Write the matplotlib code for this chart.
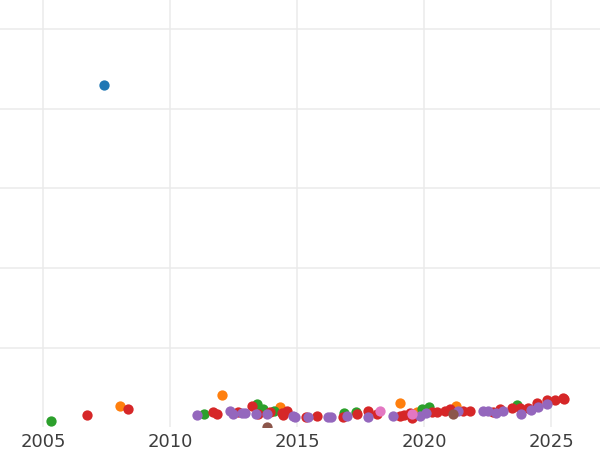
import matplotlib
matplotlib.use("Agg")
import matplotlib.pyplot as plt

# values (x = year, y = arbitrary units, grid every 20)
blue_x = [2007.40]
blue_y = [86.0]

orange_x = [2008.04, 2012.03, 2014.34, 2019.05, 2019.71, 2021.26]
orange_y = [5.4, 8.0, 5.1, 6.0, 3.8, 5.4]

green_x = [2005.30, 2011.32, 2013.41, 2013.65, 2014.11, 2016.85, 2017.32,
           2019.91, 2020.20, 2023.67]
green_y = [1.4, 3.3, 5.9, 4.5, 3.9, 3.4, 3.8, 4.5, 5.1, 5.5]

red_x = [2006.74, 2008.33, 2011.71, 2011.84, 2012.69, 2013.22, 2013.48, 2013.94,
         2014.40, 2014.45, 2014.62, 2015.35, 2015.77, 2016.82, 2017.35, 2017.81,
         2018.14, 2019.05, 2019.21, 2019.46, 2019.51, 2020.30, 2020.50, 2020.83,
         2021.02, 2021.55, 2021.81, 2022.72, 2022.99, 2023.45, 2023.78, 2024.11,
         2024.44, 2024.83, 2025.16, 2025.46, 2025.51]
red_y = [3.0, 4.5, 3.7, 3.2, 3.7, 5.4, 3.2, 3.7,
         3.4, 3.0, 4.0, 2.6, 2.8, 2.6, 3.2, 4.1,
         3.2, 2.8, 3.0, 3.4, 2.2, 3.8, 3.7, 4.0,
         4.5, 4.0, 4.0, 3.8, 4.5, 4.9, 4.9, 4.9,
         6.0, 6.8, 6.8, 7.2, 7.0]

purple_x = [2011.06, 2012.36, 2012.49, 2012.85, 2012.95, 2013.39, 2013.83, 2014.85,
            2014.92, 2015.42, 2016.23, 2016.34, 2016.96, 2017.81, 2018.79, 2019.84,
            2020.08, 2021.33, 2022.33, 2022.53, 2022.83, 2023.10, 2023.82, 2024.20,
            2024.48, 2024.85]
purple_y = [3.0, 3.9, 3.2, 3.4, 3.6, 3.3, 3.2, 2.8,
            2.5, 2.5, 2.4, 2.4, 2.8, 2.4, 2.8, 2.8,
            3.6, 4.0, 4.0, 4.0, 3.6, 4.0, 3.3, 4.3,
            5.1, 5.8]

brown_x = [2013.82, 2021.14]
brown_y = [0.1, 3.2]

pink_x = [2018.27, 2019.51]
pink_y = [4.1, 3.3]

series = [
    (blue_x, blue_y, "#1f77b4"),
    (orange_x, orange_y, "#ff7f0e"),
    (green_x, green_y, "#2ca02c"),
    (red_x, red_y, "#d62728"),
    (purple_x, purple_y, "#9467bd"),
    (brown_x, brown_y, "#8c564b"),
    (pink_x, pink_y, "#e377c2"),
]

plt.rcParams["font.family"] = ["DejaVu Sans"]

fig = plt.figure(figsize=(6, 4.5), dpi=100)
ax = fig.add_axes([0.0, 1 - 427 / 450, 1.0, 427 / 450])

for xs, ys, col in series:
    ax.scatter(xs, ys, s=55, color=col, linewidths=0, zorder=3)

ax.set_xlim(2003.307, 2003.307 + 600 / 25.4)
ax.set_ylim(0, 427 / 3.975)
ax.set_xticks([2005, 2010, 2015, 2020, 2025])
ax.set_yticks([20, 40, 60, 80, 100])
ax.set_yticklabels([])
ax.tick_params(axis="both", length=0)
ax.tick_params(axis="x", labelsize=13, labelcolor="#3d3d3d", pad=4)
ax.grid(True, color="#ebebeb", linewidth=1.1, zorder=0)
ax.set_axisbelow(True)
for sp in ax.spines.values():
    sp.set_visible(False)

fig.savefig("out.png", dpi=100)
